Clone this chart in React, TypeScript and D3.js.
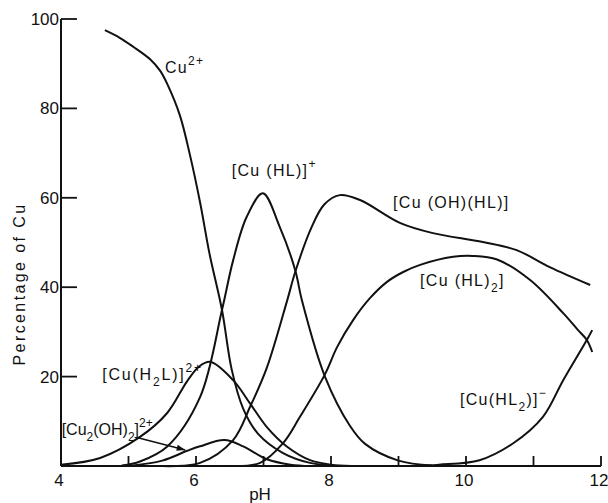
import React from "react";
import * as d3 from "d3";

// ---- data ----
const cu2pH = [4.65, 4.87, 5.07, 5.32, 5.47, 5.57, 5.76, 5.91, 6.06, 6.2, 6.385, 6.53, 6.7, 6.92, 7.29, 7.69, 8.1];
const cu2Val = [97.5, 95.8, 93.8, 91.0, 88.4, 85.6, 78.5, 69.6, 59, 47.5, 34.9, 21.5, 12.8, 7.2, 2.9, 0.7, 0];

const cuHLpH = [4.9, 5.17, 5.57, 6.06, 6.385, 6.55, 6.75, 6.99, 7.24, 7.47, 7.57, 7.91, 8.28, 8.5, 9.0, 9.5];
const cuHLVal = [0.1, 1, 4.3, 15.4, 34.9, 46, 55.7, 61, 53.5, 43.8, 37, 20, 9, 5, 1.2, 0.1];

const cuH2LpH = [4.0, 4.58, 5.17, 5.57, 5.87, 6.05, 6.21, 6.55, 6.8, 7.05, 7.35, 7.69, 8.0, 8.3];
const cuH2LVal = [0.3, 1.8, 6.5, 11.8, 19, 22.3, 23.3, 19.2, 14, 8.7, 4.3, 1.3, 0.3, 0];

const cu2OH2pH = [5.0, 5.5, 5.87, 6.06, 6.42, 6.7, 7.05, 7.4, 7.7];
const cu2OH2Val = [0, 1.2, 3.4, 4.4, 5.8, 4.4, 1.5, 0.3, 0];

const cuOHHLpH = [5.5, 6.06, 6.55, 6.8, 7.05, 7.35, 7.47, 7.7, 7.9, 8.13, 8.43, 9.02, 9.51, 10.25, 10.75, 11.24, 11.84];
const cuOHHLVal = [0, 0.7, 5.8, 13.2, 22, 37, 43.4, 53, 58.5, 60.6, 59.5, 54.4, 52.1, 50.1, 48.3, 44.5, 40.5];

const cuHL2pH = [6.5, 6.95, 7.29, 7.54, 7.91, 8.09, 8.33, 8.58, 8.83, 9.07, 9.32, 9.81, 10.1, 10.46, 10.95, 11.44, 11.66, 11.79, 11.87];
const cuHL2Val = [0, 0.7, 5.1, 11, 20.5, 26.6, 32.7, 37.6, 41.2, 43.4, 45, 46.8, 47, 46.2, 41.6, 34.2, 30.4, 28.2, 25.5];

const cuHL2mpH = [9.2, 9.6, 10.2, 10.7, 11.14, 11.44, 11.79, 11.87];
const cuHL2mVal = [0, 0.3, 1.3, 5.1, 11, 19.2, 28.2, 30.4];

const xTickMarks = [5, 6, 7, 8, 9, 10, 11, 12];
const xTickLabels = [4, 6, 8, 10, 12];
const yTicks = [20, 40, 60, 80, 100];

const series = [
  { pH: cu2pH, v: cu2Val },
  { pH: cuHLpH, v: cuHLVal },
  { pH: cuH2LpH, v: cuH2LVal },
  { pH: cu2OH2pH, v: cu2OH2Val },
  { pH: cuOHHLpH, v: cuOHHLVal },
  { pH: cuHL2pH, v: cuHL2Val },
  { pH: cuHL2mpH, v: cuHL2mVal },
];

export default function App() {
  const W = 608, H = 503;
  const x = d3.scaleLinear().domain([4, 12]).range([61, 601]);
  const y = d3.scaleLinear().domain([0, 100]).range([466, 19]);
  const line = d3
    .line<[number, number]>()
    .x((d) => x(d[0]))
    .y((d) => Math.min(y(0), y(d[1])))
    .curve(d3.curveCatmullRom.alpha(0.5));

  const font = "'Liberation Sans', Arial, sans-serif";
  const lab = { fontFamily: font, fontSize: 16, letterSpacing: 1.3, fill: "#111" } as any;
  const sup = { fontSize: 12 } as any;

  const T = (pH: number, v: number) => ({ x: x(pH), y: y(v) });

  const a0 = T(5.14, 6.3);
  const a1 = T(5.84, 3.6);
  const ang = Math.atan2(a1.y - a0.y, a1.x - a0.x);
  const ah = 9;
  const arrowHead = [
    [a1.x, a1.y],
    [a1.x - ah * Math.cos(ang - 0.35), a1.y - ah * Math.sin(ang - 0.35)],
    [a1.x - ah * Math.cos(ang + 0.35), a1.y - ah * Math.sin(ang + 0.35)],
  ]
    .map((p) => p.join(","))
    .join(" ");

  const lCu = T(5.54, 88);
  const lHL = T(6.53, 64.9);
  const lOH = T(8.92, 57.7);
  const lHL2 = T(9.32, 40.3);
  const lHL2m = T(9.91, 13.6);
  const lH2L = T(4.61, 19.2);
  const lCu2 = T(4.01, 6.9);

  return (
    <svg width={W} height={H} style={{ position: "absolute", left: 0, top: 0, background: "#fff" }}>
      <rect width={W} height={H} fill="#fff" />
      {/* axes */}
      <line x1={x(4)} x2={x(4)} y1={y(0)} y2={y(100)} stroke="#111" strokeWidth={2} />
      <line x1={x(4)} x2={x(12)} y1={y(0)} y2={y(0)} stroke="#111" strokeWidth={2} />
      {yTicks.map((t) => (
        <g key={"y" + t}>
          <line x1={x(4)} x2={x(4) + 16} y1={y(t)} y2={y(t)} stroke="#111" strokeWidth={1.8} />
          <text x={x(4) - 2} y={y(t) + 6} textAnchor="end" fontFamily={font} fontSize={17} fill="#111">
            {t}
          </text>
        </g>
      ))}
      {xTickMarks.map((t) => (
        <line key={"xt" + t} x1={x(t)} x2={x(t)} y1={y(0)} y2={y(0) - 10} stroke="#111" strokeWidth={1.8} />
      ))}
      {xTickLabels.map((t) => (
        <text key={"xl" + t} x={x(t) - 2} y={486} textAnchor="middle" fontFamily={font} fontSize={17} fill="#111">
          {t}
        </text>
      ))}
      <text x={260} y={500} textAnchor="middle" fontFamily={font} fontSize={17} fill="#111">
        pH
      </text>
      <text
        transform={`translate(25,284) rotate(-90)`}
        textAnchor="middle"
        fontFamily={font}
        fontSize={16}
        letterSpacing={2.4}
        fill="#111"
      >
        Percentage of Cu
      </text>

      {/* curves */}
      {series.map((s, i) => (
        <path
          key={i}
          d={line(s.pH.map((p, j) => [p, s.v[j]] as [number, number])) || ""}
          fill="none"
          stroke="#111"
          strokeWidth={2}
        />
      ))}

      {/* arrow */}
      <line x1={a0.x} y1={a0.y} x2={a1.x} y2={a1.y} stroke="#111" strokeWidth={1.5} />
      <polygon points={arrowHead} fill="#111" />

      {/* labels */}
      <text x={lCu.x} y={lCu.y} {...lab}>
        Cu<tspan {...sup} dy={-8}>2+</tspan>
      </text>
      <text x={lHL.x} y={lHL.y} {...lab}>
        [Cu (HL)]<tspan {...sup} dy={-8}>+</tspan>
      </text>
      <text x={lOH.x} y={lOH.y} {...lab}>
        [Cu (OH)(HL)]
      </text>
      <text x={lHL2.x} y={lHL2.y} {...lab}>
        [Cu (HL)<tspan {...sup} dy={6}>2</tspan>
        <tspan dy={-6}>]</tspan>
      </text>
      <text x={lHL2m.x} y={lHL2m.y} {...lab}>
        [Cu(HL<tspan {...sup} dy={6}>2</tspan>
        <tspan dy={-6}>)]</tspan>
        <tspan {...sup} dy={-8}>−</tspan>
      </text>
      <text x={lH2L.x} y={lH2L.y} {...lab} letterSpacing={1.8}>
        [Cu(H<tspan {...sup} dy={6}>2</tspan>
        <tspan dy={-6}>L)]</tspan>
        <tspan {...sup} dy={-8}>2+</tspan>
      </text>
      <text x={lCu2.x} y={lCu2.y} {...lab} letterSpacing={0}>
        [Cu<tspan {...sup} dy={6}>2</tspan>
        <tspan dy={-6}>(OH)</tspan>
        <tspan {...sup} dy={6}>2</tspan>
        <tspan dy={-6}>]</tspan>
        <tspan {...sup} dy={-8}>2+</tspan>
      </text>
    </svg>
  );
}
